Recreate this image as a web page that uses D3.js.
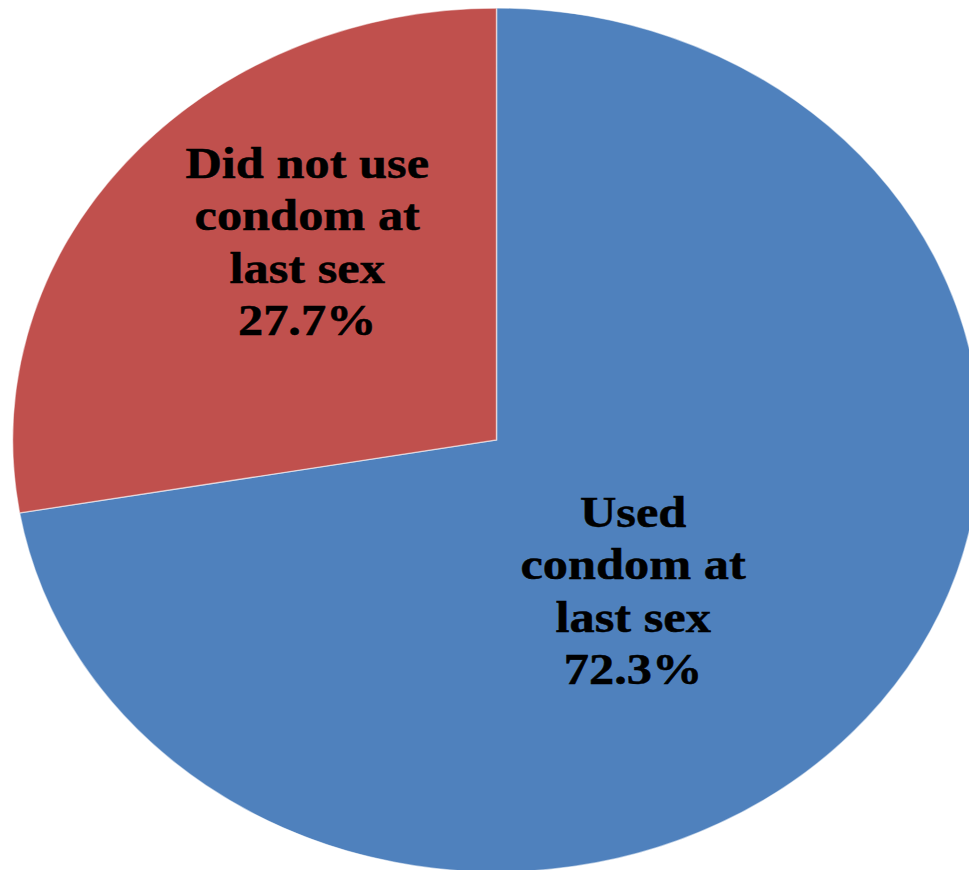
<!DOCTYPE html>
<html><head><meta charset="utf-8">
<script src="https://cdn.jsdelivr.net/npm/d3@7"></script>
<style>html,body{margin:0;padding:0;background:#fff;}svg{display:block;}</style>
</head><body>
<svg id="c" width="969" height="870"></svg>
<script>
const categories = ["Used condom at last sex", "Did not use condom at last sex"];
const values = [72.3, 27.7];
const labelLines = [["Used", "condom at", "last sex", "72.3%"], ["Did not use", "condom at", "last sex", "27.7%"]];
const colors = ["#4F81BD", "#C0504D"];
const labelPos = [[122, 87], [-169, -262]]; // first-line baseline, relative to centre (unscaled radius units)

const W = 969, H = 870;
const cx = 496.5, cy = 440, ry = 432, sx = 1.12;
const svg = d3.select("#c");
const g = svg.append("g").attr("transform", `translate(${cx},${cy}) scale(${sx},1)`);

const pie = d3.pie().sort(null).value(d => d)(values);
const arc = d3.arc().innerRadius(0).outerRadius(ry);

g.selectAll("path.slice").data(pie).join("path")
  .attr("class", "slice")
  .attr("d", arc)
  .attr("fill", (d, i) => colors[i])
  .attr("stroke", "#ffffff")
  .attr("stroke-opacity", 0.55)
  .attr("stroke-width", 1.3);

const lineH = 52.5;
const lab = g.selectAll("text.lab").data(pie).join("text")
  .attr("class", "lab")
  .attr("text-anchor", "middle")
  .attr("font-family", "'Liberation Serif','Times New Roman',serif")
  .attr("font-weight", "bold")
  .attr("font-size", 45)
  .attr("fill", "#000")
  .attr("stroke", "#000")
  .attr("stroke-width", 0.5)
  .attr("transform", (d, i) => `translate(${labelPos[i][0]},${labelPos[i][1]})`);
lab.each(function(d, i) {
  d3.select(this).selectAll("tspan").data(labelLines[i]).join("tspan")
    .attr("x", 0).attr("y", (t, j) => j * lineH).text(t => t);
});
</script>
</body></html>
